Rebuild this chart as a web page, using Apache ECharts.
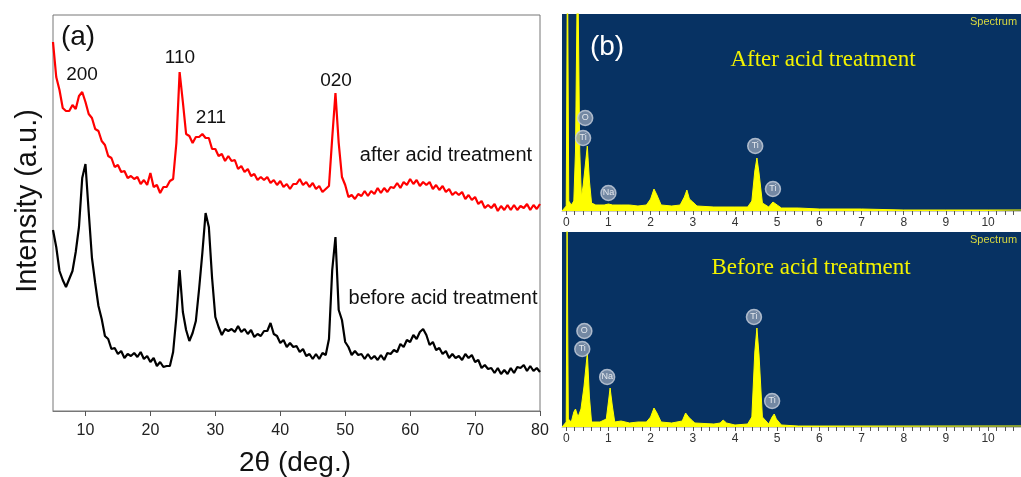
<!DOCTYPE html>
<html>
<head>
<meta charset="utf-8">
<script src="https://cdn.jsdelivr.net/npm/echarts@6/dist/echarts.min.js"></script>
<style>
html,body{margin:0;padding:0;background:#fff}
#main{width:1021px;height:477px}
</style>
</head>
<body>
<div id="main"></div>
<script>
// (a) XRD, 2theta grid every 0.5 deg from 5 to 80
var theta = [];
for (var i = 0; i <= 150; i++) theta.push(5 + i * 0.5);

var afterXrd = [369,334,321,303,300,300,306,302,315,319,309,297,293,282,280,270,266,255,253,244,
  246,239,240,233,235,232,234,227,231,226,238,224,226,218,224,224,230,232,268,339,
  309,277,275,268,274,274,277,273,273,262,262,255,257,250,255,250,251,242,245,239,
  242,235,237,231,234,231,234,228,231,226,230,224,227,222,227,227,232,226,229,224,
  228,222,225,219,222,225,273,318,268,234,226,214,216,212,217,215,220,215,220,217,
  223,218,223,219,224,223,228,223,229,226,232,227,231,225,229,226,229,222,226,221,
  225,219,222,216,219,216,219,212,216,211,214,207,210,203,206,203,207,200,205,201,
  206,201,206,201,205,203,207,201,206,202,207];

var beforeXrd = [181,164,140,131,124,132,140,159,184,233,247,199,153,128,105,92,75,72,62,63,
  57,60,53,57,55,58,54,59,52,55,49,53,45,49,44,45,45,59,94,141,
  99,81,70,78,90,122,158,198,184,133,94,84,76,82,80,82,79,85,79,82,
  77,81,74,77,75,80,80,88,77,75,68,71,64,68,64,65,59,62,55,57,
  52,57,52,58,56,72,141,174,101,91,69,64,56,60,56,57,52,57,52,55,
  51,56,51,58,57,61,59,67,64,71,69,76,72,79,82,76,66,69,61,63,
  57,60,53,57,53,55,51,57,53,56,49,51,43,46,42,43,38,43,37,41,
  37,43,38,44,43,46,40,45,40,43,39];

var xrdTicks = [10, 20, 30, 40, 50, 60, 70, 80];

// (b) EDS spectra, energy (keV) and counts
var edsAfterE = [-0.1,0,0.03,0.06,0.12,0.18,0.22,0.27,0.32,0.36,0.4,0.45,0.5,0.55,0.6,0.7,0.8,0.9,1.0,1.04,
  1.1,1.3,1.5,1.7,1.9,2.0,2.08,2.15,2.25,2.5,2.7,2.8,2.86,2.92,3.0,3.1,3.5,4.0,4.3,4.4,
  4.47,4.52,4.57,4.65,4.8,4.9,4.94,5.0,5.1,5.5,6.0,7.0,8.0,9.0,10.0,10.8];
var edsAfterC = [0,5,260,10,6,10,60,260,60,14,25,45,65,30,8,6,6,6,7,8,
  6,6,6,5,6,12,22,16,6,5,6,14,21,12,9,5,4,4,4,10,
  40,53,38,8,4,9,11,6,3,3,2,2,1,1,1,1];

var edsBeforeE = [-0.1,0,0.02,0.05,0.12,0.18,0.22,0.28,0.35,0.42,0.5,0.55,0.6,0.8,0.95,1.0,1.04,1.09,1.15,1.3,
  1.5,1.7,1.9,2.0,2.08,2.15,2.25,2.5,2.75,2.83,2.9,2.97,3.05,3.5,3.65,3.72,3.8,4.0,4.3,4.4,
  4.47,4.52,4.57,4.65,4.8,4.88,4.93,4.98,5.1,5.5,6.0,10.8];
var edsBeforeC = [0,5,200,8,5,15,18,10,18,40,74,30,5,5,8,25,39,22,5,6,
  4,5,5,10,19,14,5,4,6,14,10,7,4,3,4,7,4,2,3,10,
  75,99,72,10,3,10,13,8,2,1,1,1];

var edsLabels = [0, 1, 2, 3, 4, 5, 6, 7, 8, 9, 10];
var edsTicks = [];
for (var k = 0; k <= 53; k++) edsTicks.push(Math.round(k * 2) / 10);

// element markers: [symbol, keV, height]
var afterMarks = [['O', 0.45, 93], ['Ti', 0.40, 73], ['Na', 1.0, 18], ['Ti', 4.48, 65], ['Ti', 4.9, 22]];
var beforeMarks = [['O', 0.43, 96], ['Ti', 0.38, 78], ['Na', 0.97, 50], ['Ti', 4.45, 110], ['Ti', 4.88, 26]];

function pairs(xs, ys) {
  return xs.map(function (x, i) { return [x, ys[i]]; });
}
function marks(list) {
  return list.map(function (m) { return { name: m[0], value: [m[1], m[2]] }; });
}

var chart = echarts.init(document.getElementById('main'), null, { renderer: 'canvas' });

var edsBlue = '#073263';
var edsYellow = '#ffff00';

var edsX = function (gi) {
  return {
    type: 'value', gridIndex: gi, min: -0.1, max: 10.78,
    axisLine: { show: true, lineStyle: { color: '#c8c8c8', width: 1 } },
    axisTick: { show: true, customValues: edsTicks, length: 4, inside: false, lineStyle: { color: '#555' } },
    axisLabel: { customValues: edsLabels, color: '#333', fontSize: 12, margin: 6, fontFamily: 'Liberation Sans' },
    splitLine: { show: false }
  };
};

var markSeries = function (gi, list) {
  return {
    type: 'scatter', xAxisIndex: gi, yAxisIndex: gi,
    data: marks(list), symbol: 'circle', symbolSize: 15, z: 5,
    itemStyle: { color: '#8e9db3', borderColor: '#c9d1dd', borderWidth: 1.5 },
    label: { show: true, position: 'inside', formatter: '{b}', color: '#fff', fontSize: 9, fontFamily: 'Liberation Sans' },
    silent: true
  };
};

var txt = function (x, y, s, size, fill, family, extra) {
  var o = { type: 'text', x: x, y: y, z: 10,
    style: { text: s, font: size + 'px "' + (family || 'Liberation Sans') + '"', fill: fill || '#111', align: 'center', verticalAlign: 'middle' } };
  if (extra) for (var p in extra) o[p] = extra[p];
  return o;
};

var option = {
  animation: false,
  grid: [
    { left: 53, top: 15, width: 487, height: 396, show: true, borderColor: '#777', borderWidth: 1 },
    { left: 562, top: 14, width: 459, height: 197, show: true, backgroundColor: edsBlue, borderWidth: 0 },
    { left: 562, top: 232, width: 459, height: 195, show: true, backgroundColor: edsBlue, borderWidth: 0 }
  ],
  xAxis: [
    {
      type: 'value', gridIndex: 0, min: 5, max: 80,
      axisLine: { show: true, lineStyle: { color: '#777', width: 1 } },
      axisTick: { show: true, customValues: xrdTicks, length: 5, lineStyle: { color: '#555' } },
      axisLabel: { customValues: xrdTicks, color: '#222', fontSize: 16, margin: 12, fontFamily: 'Liberation Sans' },
      splitLine: { show: false }
    },
    edsX(1),
    edsX(2)
  ],
  yAxis: [
    { type: 'value', gridIndex: 0, min: 0, max: 396, show: false },
    { type: 'value', gridIndex: 1, min: 0, max: 197, show: false },
    { type: 'value', gridIndex: 2, min: 0, max: 195, show: false }
  ],
  series: [
    {
      name: 'after acid treatment', type: 'line', xAxisIndex: 0, yAxisIndex: 0,
      data: pairs(theta, afterXrd), showSymbol: false,
      lineStyle: { color: '#ff0000', width: 2.2 }
    },
    {
      name: 'before acid treatment', type: 'line', xAxisIndex: 0, yAxisIndex: 0,
      data: pairs(theta, beforeXrd), showSymbol: false,
      lineStyle: { color: '#000', width: 2.2 }
    },
    {
      name: 'After', type: 'line', xAxisIndex: 1, yAxisIndex: 1,
      data: pairs(edsAfterE, edsAfterC), showSymbol: false,
      lineStyle: { color: edsYellow, width: 1 }, areaStyle: { color: edsYellow, opacity: 1 }
    },
    {
      name: 'Before', type: 'line', xAxisIndex: 2, yAxisIndex: 2,
      data: pairs(edsBeforeE, edsBeforeC), showSymbol: false,
      lineStyle: { color: edsYellow, width: 1 }, areaStyle: { color: edsYellow, opacity: 1 }
    },
    markSeries(1, afterMarks),
    markSeries(2, beforeMarks)
  ],
  graphic: [
    // panel (a)
    txt(78, 37, '(a)', 28),
    txt(82, 75, '200', 19),
    txt(180, 58, '110', 19),
    txt(211, 118, '211', 19),
    txt(336, 81, '020', 19),
    txt(446, 155, 'after acid treatment', 20),
    txt(443, 298, 'before acid treatment', 20),
    txt(295, 463, '2θ (deg.)', 28),
    txt(28, 201, 'Intensity (a.u.)', 29, '#111', 'Liberation Sans', { rotation: Math.PI / 2 }),
    // panel (b)
    txt(607, 47, '(b)', 28, '#fff'),
    txt(823, 60, 'After acid treatment', 23, '#f2f200', 'Liberation Serif'),
    txt(811, 268, 'Before acid treatment', 23, '#f2f200', 'Liberation Serif'),
    { type: 'text', x: 970, y: 22, z: 10, style: { text: 'Spectrum', font: '11px "Liberation Sans"', fill: '#d8d840', align: 'left', verticalAlign: 'middle' } },
    { type: 'text', x: 970, y: 240, z: 10, style: { text: 'Spectrum', font: '11px "Liberation Sans"', fill: '#d8d840', align: 'left', verticalAlign: 'middle' } }
  ]
};

chart.setOption(option);
window.addEventListener('resize', chart.resize);
</script>
</body>
</html>
